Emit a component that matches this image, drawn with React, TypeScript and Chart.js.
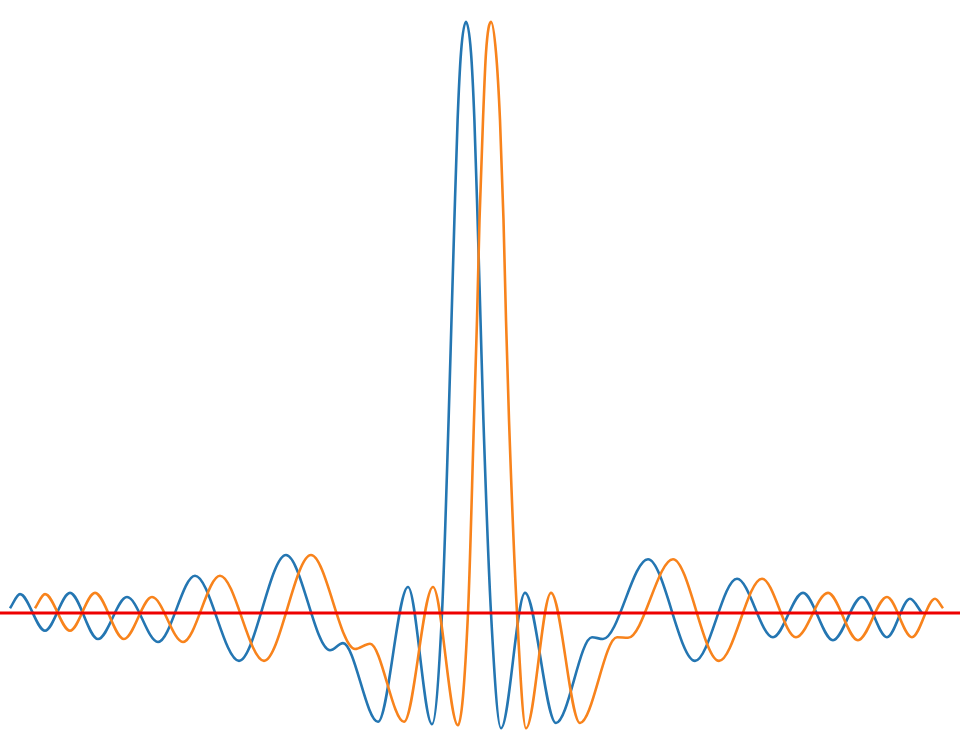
import { useEffect, useRef } from "react"
import { Chart, registerables } from "chart.js"

Chart.register(...registerables)

// signal positions (arbitrary units, main lobe of first series at 0)
const blueX = [
  -22.8, -22.3, -21.05, -19.8, -18.4, -16.95, -15.4, -13.55, -11.35, -9.0, -6.8, -6.15, -4.4, -2.9, -1.7,
  -1.2, -0.87, -0.725, -0.58, -0.42, -0.25, 0, 0.25, 0.42, 0.58, 0.725, 0.87, 1.25, 1.75, 2.95, 4.5, 6.3,
  6.85, 9.1, 11.45, 13.55, 15.35, 16.85, 18.35, 19.8, 21.05, 22.2, 22.8,
]
const blueY = [
  0.008, 0.032, -0.03, 0.034, -0.044, 0.027, -0.049, 0.063, -0.081, 0.098, -0.063, -0.051, -0.184, 0.044,
  -0.188, 0, 0.327, 0.496, 0.665, 0.834, 0.948, 1.0, 0.948, 0.834, 0.665, 0.496, 0.327, 0, -0.195, 0.034,
  -0.186, -0.041, -0.044, 0.091, -0.081, 0.058, -0.041, 0.034, -0.046, 0.027, -0.041, 0.024, 0,
]

const orangeX = [
  -21.55, -21.05, -19.8, -18.55, -17.1, -15.7, -14.15, -12.3, -10.1, -7.75, -5.55, -4.8, -3.1, -1.65, -0.4,
  0.1, 0.4, 0.55, 0.675, 0.85, 1.0, 1.25, 1.5, 1.7, 1.875, 2.0, 2.15, 2.55, 3.0, 4.25, 5.7, 7.55, 8.1, 10.35,
  12.65, 14.8, 16.5, 18.1, 19.6, 21.05, 22.3, 23.45, 23.85,
]
const orangeY = [
  0.008, 0.032, -0.03, 0.034, -0.044, 0.027, -0.049, 0.063, -0.081, 0.098, -0.061, -0.052, -0.184, 0.044,
  -0.19, 0, 0.327, 0.496, 0.665, 0.834, 0.948, 1.0, 0.948, 0.834, 0.665, 0.496, 0.327, 0, -0.195, 0.034,
  -0.186, -0.041, -0.042, 0.091, -0.081, 0.058, -0.041, 0.034, -0.046, 0.027, -0.041, 0.024, 0.008,
]

const X_MIN = -23.3
const X_MAX = 24.7
const baseline = 0

const toPoints = (xs: number[], ys: number[]) => xs.map((x, i) => ({ x, y: ys[i] }))

export default function App() {
  const chartRef = useRef<HTMLCanvasElement>(null)
  const chartInstance = useRef<Chart | null>(null)

  useEffect(() => {
    if (!chartRef.current) return
    if (chartInstance.current) chartInstance.current.destroy()

    const ctx = chartRef.current.getContext("2d")
    if (!ctx) return

    chartInstance.current = new Chart(ctx, {
      type: "line",
      data: {
        datasets: [
          {
            label: "baseline",
            data: [
              { x: X_MIN, y: baseline },
              { x: X_MAX, y: baseline },
            ],
            borderColor: "#ee0000",
            borderWidth: 3,
            order: 1,
          },
          {
            label: "shifted",
            data: toPoints(orangeX, orangeY),
            borderColor: "#f8831c",
            borderWidth: 2.6,
            cubicInterpolationMode: "monotone",
            order: 2,
          },
          {
            label: "signal",
            data: toPoints(blueX, blueY),
            borderColor: "#2476b2",
            borderWidth: 2.6,
            cubicInterpolationMode: "monotone",
            order: 3,
          },
        ],
      },
      options: {
        animation: false,
        responsive: true,
        maintainAspectRatio: false,
        layout: { padding: 0 },
        elements: { point: { radius: 0 } },
        plugins: {
          legend: { display: false },
          tooltip: { enabled: false },
        },
        scales: {
          x: { type: "linear", min: X_MIN, max: X_MAX, display: false },
          y: { min: -0.225, max: 1.037, display: false },
        },
      },
    })

    return () => {
      if (chartInstance.current) {
        chartInstance.current.destroy()
        chartInstance.current = null
      }
    }
  }, [])

  return (
    <div style={{ position: "absolute", left: 0, top: 0, width: 960, height: 746, background: "#fff" }}>
      <canvas ref={chartRef}></canvas>
    </div>
  )
}
